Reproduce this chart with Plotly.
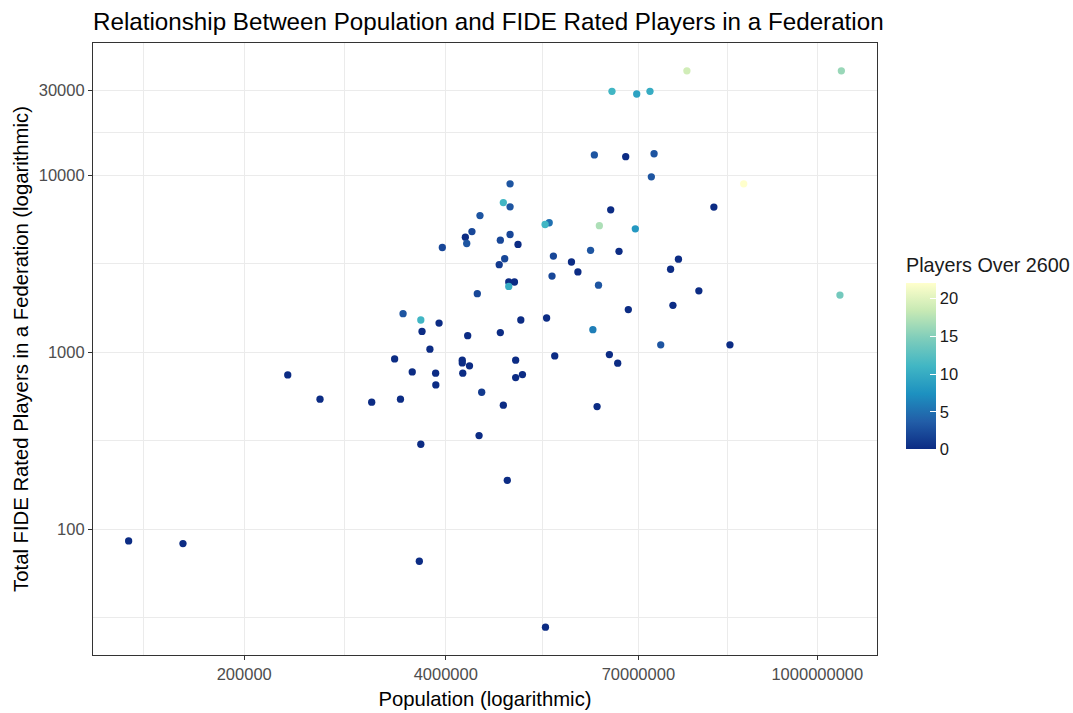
import numpy as np
import plotly.graph_objects as go

# ---- data ----
population = [
    2120000, 2760000, 3620000, 2810000, 3160000, 1870000, 2430000, 3440000, 3450000, 382000,
    617000, 1330000, 2040000, 2760000, 35900, 80500, 2700000, 10400000, 9410000, 10400000,
    6650000, 18600000, 17500000, 39200000, 5900000, 5350000, 5460000, 10400000, 9000000, 11700000,
    3800000, 34400000, 19800000, 9600000, 8850000, 25900000, 28500000, 19400000, 38700000, 10200000,
    11100000, 10200000, 6390000, 5540000, 9000000, 12200000, 17900000, 35600000, 5110000, 5110000,
    5690000, 11300000, 20200000, 5150000, 11300000, 12500000, 6820000, 9410000, 37900000, 6560000,
    9980000, 17600000, 144000000, 1430000000, 47300000, 68300000, 83200000, 36400000, 58000000, 88400000,
    84900000, 335000000, 215000000, 46400000, 66900000, 52500000, 127000000, 113000000, 172000000, 60300000,
    117000000, 1400000000, 97600000, 273000000, 45500000, 51500000,
]
rated_players = [
    1650, 1520, 1460, 1310, 1040, 916, 774, 761, 653, 744,
    543, 522, 543, 302, 86, 83, 66, 8930, 7000, 6620,
    5910, 5380, 5260, 5180, 4800, 4460, 4110, 4620, 4290, 4060,
    3900, 3760, 3490, 3370, 3120, 3230, 2840, 2690, 2390, 2490,
    2490, 2350, 2140, 1240, 1290, 1520, 1560, 1340, 901, 870,
    837, 901, 953, 761, 719, 747, 594, 502, 493, 338,
    189, 28, 38800, 38800, 29700, 28700, 29700, 13000, 12700, 13200,
    9780, 8930, 6600, 6370, 4970, 3710, 3350, 2940, 2220, 1740,
    1840, 2100, 1100, 1100, 969, 867,
]
over_2600 = [
    3, 11, 0, 0, 0, 0, 0, 0, 0, 0,
    0, 0, 0, 0, 0, 0, 0, 3, 11, 3,
    3, 5, 11, 17, 2, 0, 3, 2, 2, 0,
    2, 3, 2, 2, 1, 0, 0, 2, 3, 0,
    0, 10, 2, 0, 0, 0, 0, 6, 0, 0,
    0, 0, 0, 0, 0, 0, 1, 0, 0, 0,
    0, 0, 19, 16, 11, 9, 10, 3, 0, 3,
    3, 22, 0, 0, 8, 0, 0, 0, 0, 0,
    0, 14, 3, 0, 0, 0,
]

x_ticks = [200000, 4000000, 70000000, 1000000000]
x_tick_labels = ["200000", "4000000", "70000000", "1000000000"]
y_ticks = [100, 1000, 10000, 30000]
y_tick_labels = ["100", "1000", "10000", "30000"]
legend_ticks = [0, 5, 10, 15, 20]

title_text = "Relationship Between Population and FIDE Rated Players in a Federation"
x_title = "Population (logarithmic)"
y_title = "Total FIDE Rated Players in a Federation (logarithmic)"
legend_title = "Players Over 2600"

# ---- ggplot-like minor breaks (midpoints in log space) ----
def minor_breaks(ticks, lo, hi):
    b = list(np.log10(ticks))
    bd = b[1] - b[0]
    if lo < b[0]:
        b = [b[0] - bd] + b
    if hi > b[-1]:
        b = b + [b[-1] + bd]
    mids = [(b[i] + b[i + 1]) / 2 for i in range(len(b) - 1)]
    return [10 ** m for m in mids if lo <= m <= hi]

lx, hx = np.log10(min(population)), np.log10(max(population))
ly, hy = np.log10(min(rated_players)), np.log10(max(rated_players))
xr = [lx - 0.05 * (hx - lx), hx + 0.05 * (hx - lx)]
yr = [ly - 0.05 * (hy - ly), hy + 0.05 * (hy - ly)]

colorscale = [
    [0.0, "#0C2C84"], [1 / 6, "#225EA8"], [2 / 6, "#1D91C0"], [3 / 6, "#41B6C4"],
    [4 / 6, "#7FCDBB"], [5 / 6, "#C7E9B4"], [1.0, "#FFFFCC"],
]

FONT = "Liberation Sans, Arial, sans-serif"
TITLE_SIZE = 24.2
AXIS_TITLE_SIZE = 20.3
LEGEND_TITLE_SIZE = 19.8
TICK_SIZE = 16.5
W, H = 1073, 713
ML, MR, MT, MB = 93, 196, 43, 58
PW, PH = W - ML - MR, H - MT - MB

fig = go.Figure(
    go.Scatter(
        x=population,
        y=rated_players,
        mode="markers",
        marker=dict(
            size=7.3,
            color=over_2600,
            colorscale=colorscale,
            cmin=0,
            cmax=max(over_2600),
            line=dict(width=0),
            showscale=True,
            colorbar=dict(
                thickness=30,
                thicknessmode="pixels",
                len=166,
                lenmode="pixels",
                x=(906 - ML) / PW,
                xanchor="left",
                xref="paper",
                y=(MT + PH - 366.5) / PH,
                yanchor="middle",
                yref="paper",
                tickvals=legend_ticks,
                ticktext=[str(t) for t in legend_ticks],
                ticks="inside",
                ticklen=6,
                tickcolor="white",
                tickwidth=1,
                tickfont=dict(family=FONT, size=TICK_SIZE, color="#1a1a1a"),
                outlinewidth=0,
                borderwidth=0,
                xpad=0,
                ypad=0,
            ),
        ),
        showlegend=False,
        hoverinfo="x+y",
    )
)

fig.add_annotation(
    text=legend_title,
    xref="paper", yref="paper",
    x=(904 - ML) / PW, y=(MT + PH - 265) / PH,
    xanchor="left", yanchor="middle",
    showarrow=False,
    font=dict(family=FONT, size=LEGEND_TITLE_SIZE, color="#1a1a1a"),
)

axis_common = dict(
    type="log",
    showgrid=True,
    gridcolor="#EBEBEB",
    gridwidth=1.3,
    zeroline=False,
    showline=True,
    mirror=True,
    linecolor="#333333",
    linewidth=1.2,
    ticks="outside",
    ticklen=4,
    tickwidth=1.1,
    tickcolor="#333333",
    tickfont=dict(family=FONT, size=TICK_SIZE, color="#4D4D4D"),
)

fig.update_xaxes(
    **axis_common,
    range=xr,
    tickmode="array",
    tickvals=x_ticks,
    ticktext=x_tick_labels,
    minor=dict(tickvals=minor_breaks(x_ticks, xr[0], xr[1]), showgrid=True,
               gridcolor="#EBEBEB", gridwidth=0.7, ticks=""),
    title=dict(text=x_title, font=dict(family=FONT, size=AXIS_TITLE_SIZE, color="black"), standoff=9),
)
fig.update_yaxes(
    **axis_common,
    range=yr,
    tickmode="array",
    tickvals=y_ticks,
    ticktext=y_tick_labels,
    minor=dict(tickvals=minor_breaks(y_ticks, yr[0], yr[1]), showgrid=True,
               gridcolor="#EBEBEB", gridwidth=0.7, ticks=""),
    title=dict(text=y_title, font=dict(family=FONT, size=AXIS_TITLE_SIZE, color="black"), standoff=4),
)

fig.update_layout(
    width=W,
    height=H,
    margin=dict(l=ML, r=MR, t=MT, b=MB, autoexpand=False),
    paper_bgcolor="white",
    plot_bgcolor="white",
    title=dict(
        text=title_text,
        x=0, xref="paper", xanchor="left",
        y=1 - 22 / H, yref="container", yanchor="middle",
        font=dict(family=FONT, size=TITLE_SIZE, color="black"),
    ),
    font=dict(family=FONT),
)

fig.write_html("out.html")
